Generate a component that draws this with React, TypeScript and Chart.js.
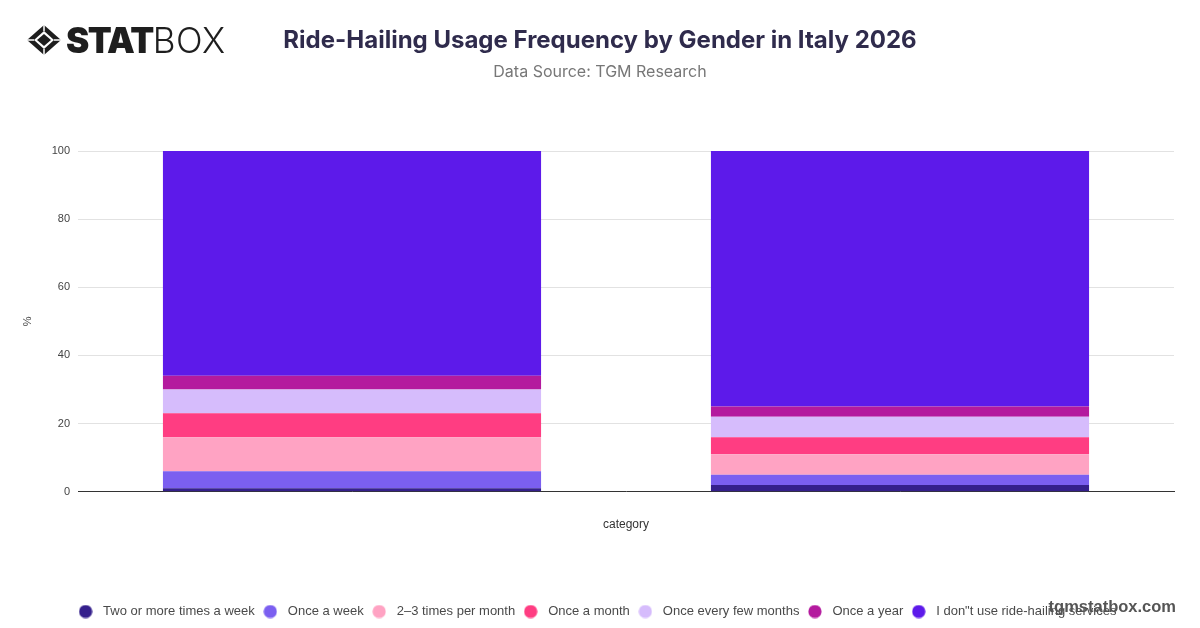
import React, { useEffect, useRef } from "react";
import { Chart, registerables } from "chart.js";

Chart.register(...registerables);

const categories = ["Male", "Female"];
const seriesNames = [
  "Two or more times a week",
  "Once a week",
  "2–3 times per month",
  "Once a month",
  "Once every few months",
  "Once a year",
  'I don"t use ride-hailing services',
];
const twoOrMore = [1, 2];
const onceWeek = [5, 3];
const twoThreeMonth = [10, 6];
const onceMonth = [7, 5];
const fewMonths = [7, 6];
const onceYear = [4, 3];
const dontUse = [66, 75];
const seriesColors = ["#35208c", "#7b5ff0", "#ffa3c3", "#ff3d82", "#d6bcfc", "#b41a9e", "#5d1aea"];
const yTicks = [0, 20, 40, 60, 80, 100];

const FONT = "'Liberation Sans', Arial, sans-serif";

function makeDot(color: string) {
  const c = document.createElement("canvas");
  c.width = 14;
  c.height = 14;
  const ctx = c.getContext("2d") as CanvasRenderingContext2D;
  ctx.fillStyle = color;
  ctx.beginPath();
  ctx.arc(7, 7, 6.6, 0, Math.PI * 2);
  ctx.fill();
  return c;
}

export default function App() {
  const ref = useRef<HTMLCanvasElement | null>(null);
  useEffect(() => {
    document.body.style.margin = "0";
    const values = [twoOrMore, onceWeek, twoThreeMonth, onceMonth, fewMonths, onceYear, dontUse];
    const dots = seriesColors.map(makeDot);
    const chart = new Chart(ref.current as HTMLCanvasElement, {
      type: "bar",
      data: {
        labels: categories,
        datasets: values.map((v, i) => ({
          label: seriesNames[i],
          data: v,
          backgroundColor: seriesColors[i],
          borderWidth: 0,
          categoryPercentage: 1,
          barPercentage: 0.69,
        })),
      },
      options: {
        animation: false,
        responsive: false,
        devicePixelRatio: 1,
        layout: { padding: { top: 151, left: 17, right: 26, bottom: 0 } },
        plugins: {
          legend: {
            position: "bottom",
            labels: {
              usePointStyle: true,
              pointStyleWidth: 22,
              boxHeight: 13,
              padding: 4.5,
              color: "#4a4a4a",
              font: { family: FONT, size: 13 },
              generateLabels: (ch: any) => {
                const items = (Chart.defaults.plugins.legend.labels.generateLabels as any)(ch);
                items.forEach((it: any, i: number) => {
                  it.pointStyle = dots[i];
                });
                return items;
              },
            },
          },
          tooltip: { enabled: false },
        },
        scales: {
          x: {
            stacked: true,
            grid: { display: false, drawTicks: false },
            border: { display: true, color: "#333", width: 1 },
            ticks: { display: false },
            title: {
              display: true,
              text: "category",
              color: "#333",
              font: { family: FONT, size: 12 },
              padding: { top: 25.8, bottom: 68.6 },
            },
          },
          y: {
            stacked: true,
            min: 0,
            max: 100,
            afterBuildTicks: (s: any) => {
              s.ticks = yTicks.map((v) => ({ value: v }));
            },
            afterFit: (s: any) => {
              s.width = 61;
            },
            grid: { color: "#e2e2e2", drawTicks: false },
            border: { display: false },
            ticks: {
              padding: 8,
              color: "#444",
              font: { family: FONT, size: 11 },
            },
            title: {
              display: true,
              text: "%",
              color: "#444",
              font: { family: FONT, size: 11 },
            },
          },
        },
      },
    });
    return () => chart.destroy();
  }, []);

  return (
    <div style={{ position: "fixed", left: 0, top: 0, width: 1200, height: 628, background: "#fff", overflow: "hidden" }}>
      <canvas ref={ref} width={1200} height={628} style={{ position: "absolute", left: 0, top: 0, width: 1200, height: 628 }} />
      <div style={{ position: "absolute", left: 26, top: 22, display: "flex", alignItems: "center" }}>
        <svg width="36" height="32" viewBox="0 0 36 32">
          <path d="M18 1 L35 16 L18 31 L1 16 Z" fill="#1e1e1e" />
          <path d="M18 7 L28 16 L18 25 L8 16 Z" fill="#fff" />
          <path d="M18 10 L25 16 L18 22 L11 16 Z" fill="#1e1e1e" />
          <path d="M18 1 L18 7 M35 16 L28 16 M18 31 L18 25 M1 16 L8 16" stroke="#fff" strokeWidth="1.5" />
        </svg>
        <span style={{ fontFamily: "Inter, sans-serif", fontWeight: 900, fontSize: 35, color: "#1e1e1e", letterSpacing: -1.5, marginLeft: 4, lineHeight: "36px" }}>STAT</span>
        <span style={{ fontFamily: "Inter, sans-serif", fontWeight: 300, fontSize: 35, color: "#1e1e1e", letterSpacing: 0.5, lineHeight: "36px" }}>BOX</span>
      </div>
      <div style={{ position: "absolute", left: 0, width: 1200, top: 24, textAlign: "center", fontFamily: "Inter, sans-serif", fontWeight: 700, fontSize: 24, color: "#2f2b4c", lineHeight: "32px" }}>
        Ride-Hailing Usage Frequency by Gender in Italy 2026
      </div>
      <div style={{ position: "absolute", left: 0, width: 1200, top: 61, textAlign: "center", fontFamily: "Inter, sans-serif", fontWeight: 400, fontSize: 16, color: "#777", lineHeight: "20px" }}>
        Data Source: TGM Research
      </div>
      <div style={{ position: "absolute", right: 24, top: 596, fontFamily: FONT, fontWeight: 700, fontSize: 16.5, color: "#555", lineHeight: "20px" }}>
        tgmstatbox.com
      </div>
    </div>
  );
}
